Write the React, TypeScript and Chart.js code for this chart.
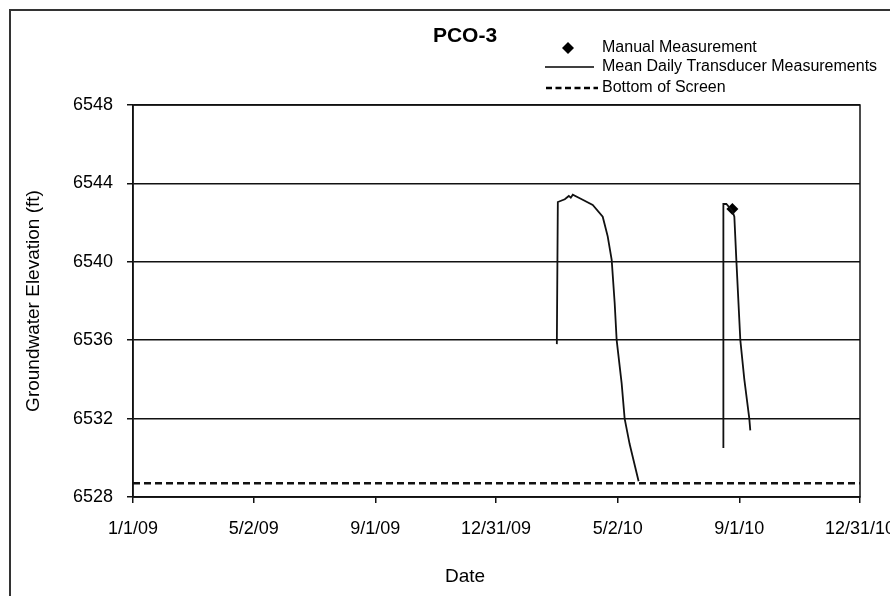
import React, { useEffect, useRef } from "react";
import { Chart, registerables } from "chart.js";

Chart.register(...registerables);

const FONT = "'Liberation Sans', Arial, Helvetica, sans-serif";

// ---- data ----
const chartTitle = "PCO-3";
const xTitle = "Date";
const yTitle = "Groundwater Elevation (ft)";
const legendLabels = [
  "Manual Measurement",
  "Mean Daily Transducer Measurements",
  "Bottom of Screen",
];

// first transducer record (spring 2010)
const springDates = [
  "2010-03-02", "2010-03-03", "2010-03-10", "2010-03-14", "2010-03-16",
  "2010-03-18", "2010-03-25", "2010-04-07", "2010-04-17", "2010-04-19",
  "2010-04-22", "2010-04-26", "2010-04-29", "2010-05-01", "2010-05-06",
  "2010-05-09", "2010-05-14", "2010-05-23",
];
const springValues = [
  6535.8, 6543.05, 6543.19, 6543.36, 6543.27,
  6543.42, 6543.24, 6542.9, 6542.3, 6541.9,
  6541.3, 6540.1, 6537.9, 6536.0, 6533.8,
  6532.0, 6530.7, 6528.8,
];

// second transducer record (late summer 2010)
const summerDates = [
  "2010-08-16", "2010-08-16", "2010-08-19", "2010-08-25", "2010-08-27",
  "2010-08-29", "2010-09-02", "2010-09-06", "2010-09-11", "2010-09-12",
];
const summerValues = [
  6530.5, 6542.95, 6542.95, 6542.6, 6542.3,
  6540.1, 6536.0, 6534.0, 6532.0, 6531.4,
];

const manualDates = ["2010-08-25"];
const manualValues = [6542.7];

const screenDates = ["2009-01-01", "2010-12-31"];
const screenValues = [6528.7, 6528.7];

const yTicks = [6528, 6532, 6536, 6540, 6544, 6548];
const xTickDates = [
  "2009-01-01", "2009-05-02", "2009-09-01", "2009-12-31",
  "2010-05-02", "2010-09-01", "2010-12-31",
];
const xTickLabels = ["1/1/09", "5/2/09", "9/1/09", "12/31/09", "5/2/10", "9/1/10", "12/31/10"];

// ---- helpers ----
const ORIGIN = Date.UTC(2009, 0, 1);
const toDay = (s: string) => {
  const [y, m, d] = s.split("-").map(Number);
  return (Date.UTC(y, m - 1, d) - ORIGIN) / 86400000;
};
const pts = (dates: string[], vals: (number | null)[]) =>
  dates.map((d, i) => ({ x: toDay(d), y: vals[i] }));

const decor = {
  id: "decor",
  beforeDraw(chart: any) {
    const ctx = chart.ctx;
    ctx.save();
    ctx.fillStyle = "#ffffff";
    ctx.fillRect(0, 0, chart.width, chart.height);
    ctx.restore();
  },
  afterDraw(chart: any) {
    const ctx = chart.ctx;
    const { left, right, top, bottom } = chart.chartArea;
    ctx.save();
    // plot frame
    ctx.strokeStyle = "#111";
    ctx.lineWidth = 1.5;
    ctx.strokeRect(left, top, right - left, bottom - top);
    // outer chart border (cropped on right / bottom)
    ctx.strokeStyle = "#333";
    ctx.lineWidth = 2;
    ctx.beginPath();
    ctx.moveTo(10, chart.height);
    ctx.lineTo(10, 10);
    ctx.lineTo(chart.width, 10);
    ctx.stroke();
    // title
    ctx.fillStyle = "#000";
    ctx.textAlign = "center";
    ctx.textBaseline = "middle";
    ctx.font = `bold 21px ${FONT}`;
    ctx.fillText(chartTitle, 465, 36);
    // x-axis title
    ctx.font = `19px ${FONT}`;
    ctx.fillText(xTitle, 465, 577);
    // legend
    ctx.font = `16px ${FONT}`;
    ctx.textAlign = "left";
    const tx = 602;
    const rows = [48, 67, 88];
    // diamond
    ctx.fillStyle = "#000";
    ctx.beginPath();
    ctx.moveTo(568, rows[0] - 6);
    ctx.lineTo(574, rows[0]);
    ctx.lineTo(568, rows[0] + 6);
    ctx.lineTo(562, rows[0]);
    ctx.closePath();
    ctx.fill();
    ctx.fillText(legendLabels[0], tx, rows[0]);
    // solid line
    ctx.strokeStyle = "#000";
    ctx.lineWidth = 1.5;
    ctx.beginPath();
    ctx.moveTo(545, rows[1]);
    ctx.lineTo(594, rows[1]);
    ctx.stroke();
    ctx.fillText(legendLabels[1], tx, rows[1]);
    // dashed line
    ctx.lineWidth = 2.4;
    ctx.setLineDash([6, 3.5]);
    ctx.beginPath();
    ctx.moveTo(546, rows[2]);
    ctx.lineTo(598, rows[2]);
    ctx.stroke();
    ctx.setLineDash([]);
    ctx.fillText(legendLabels[2], tx, rows[2]);
    ctx.restore();
  },
};

export default function App() {
  const ref = useRef<HTMLCanvasElement | null>(null);

  useEffect(() => {
    if (!ref.current) return;
    const transducer = [
      ...pts(springDates, springValues),
      { x: toDay("2010-07-01"), y: null },
      ...pts(summerDates, summerValues),
    ];
    const chart = new Chart(ref.current, {
      type: "line",
      data: {
        datasets: [
          {
            label: legendLabels[2],
            data: pts(screenDates, screenValues),
            borderColor: "#111",
            borderWidth: 2.6,
            borderDash: [7, 4],
            pointRadius: 0,
            fill: false,
          },
          {
            label: legendLabels[1],
            data: transducer,
            borderColor: "#111",
            borderWidth: 1.8,
            pointRadius: 0,
            spanGaps: false,
            tension: 0,
            fill: false,
          },
          {
            label: legendLabels[0],
            data: pts(manualDates, manualValues),
            showLine: false,
            pointStyle: "rectRot",
            pointRadius: 6,
            backgroundColor: "#000",
            borderColor: "#000",
            borderWidth: 0,
          },
        ],
      },
      options: {
        animation: false,
        responsive: false,
        events: [],
        layout: { padding: { left: 10, top: 105, right: 30, bottom: 0 } },
        plugins: {
          legend: { display: false },
          title: { display: false },
          tooltip: { enabled: false },
        },
        scales: {
          x: {
            type: "linear",
            min: toDay(xTickDates[0]),
            max: toDay(xTickDates[xTickDates.length - 1]),
            afterBuildTicks: (s: any) => {
              s.ticks = xTickDates.map((d) => ({ value: toDay(d) }));
            },
            afterFit: (s: any) => {
              s.height = 99;
              s.paddingLeft = 0;
              s.paddingRight = 0;
            },
            ticks: {
              autoSkip: false,
              maxRotation: 0,
              minRotation: 0,
              padding: 15,
              color: "#000",
              font: { family: FONT, size: 18 },
              callback: (_v: any, i: number) => xTickLabels[i],
            },
            grid: {
              display: true,
              drawOnChartArea: false,
              drawTicks: true,
              tickLength: 6,
              color: "#111",
              lineWidth: 1.5,
            },
            border: { display: true, color: "#111", width: 1.5 },
          },
          y: {
            type: "linear",
            min: yTicks[0],
            max: yTicks[yTicks.length - 1],
            afterBuildTicks: (s: any) => {
              s.ticks = yTicks.map((v) => ({ value: v }));
            },
            afterFit: (s: any) => {
              s.width = 123;
            },
            ticks: {
              padding: 14,
              color: "#000",
              font: { family: FONT, size: 18 },
              callback: (v: any) => String(v),
            },
            grid: {
              color: "#111",
              lineWidth: 1.5,
              drawTicks: true,
              tickLength: 6,
            },
            border: { display: true, color: "#111", width: 1.5 },
            title: {
              display: true,
              text: yTitle,
              color: "#000",
              font: { family: FONT, size: 19 },
              padding: { top: 12, bottom: 0 },
            },
          },
        },
      },
      plugins: [decor],
    });
    return () => chart.destroy();
  }, []);

  return (
    <div style={{ position: "absolute", left: 0, top: 0, width: 890, height: 596 }}>
      <canvas ref={ref} width={890} height={596} style={{ display: "block" }} />
    </div>
  );
}
